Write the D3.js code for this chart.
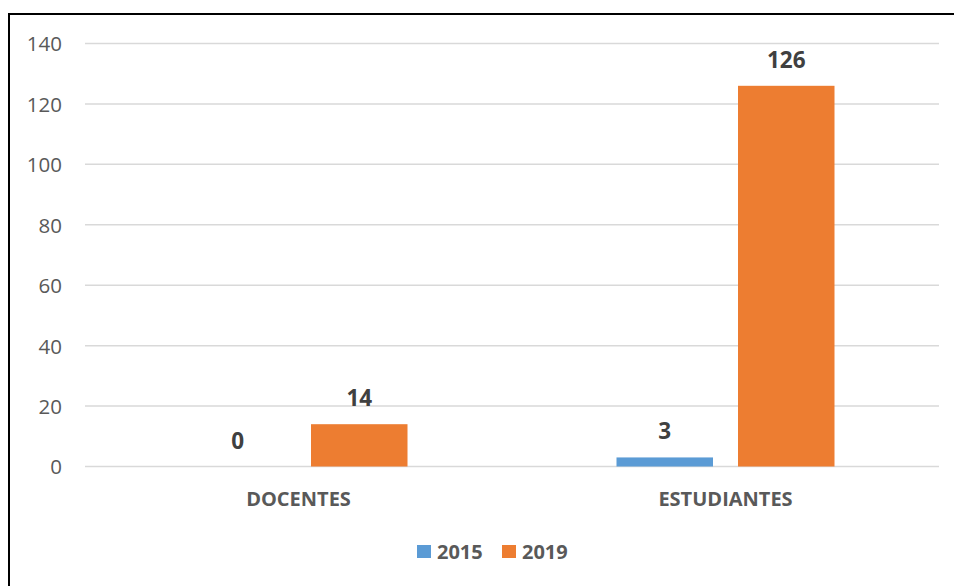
<!DOCTYPE html>
<html>
<head>
<meta charset="utf-8">
<script src="https://cdn.jsdelivr.net/npm/d3@7"></script>
<style>
  html, body { margin: 0; padding: 0; background: #fff; }
  svg { display: block; }
</style>
</head>
<body>
<svg id="chart" width="954" height="586"></svg>
<script>
// Chart data
const categories = ["DOCENTES", "ESTUDIANTES"];
const seriesNames = ["2015", "2019"];
const values2015 = [0, 3];
const values2019 = [14, 126];
const yTicks = [0, 20, 40, 60, 80, 100, 120, 140];
const colors = ["#5B9BD5", "#ED7D31"];

const seriesValues = [values2015, values2019];
const font = "'Open Sans', 'Liberation Sans', sans-serif";

const svg = d3.select("#chart");
const W = 954, H = 586;

// Frame (left and top edges of the chart box)
svg.append("line").attr("x1", 9).attr("y1", 14).attr("x2", W).attr("y2", 14)
  .attr("stroke", "#000").attr("stroke-width", 2);
svg.append("line").attr("x1", 9).attr("y1", 13).attr("x2", 9).attr("y2", H)
  .attr("stroke", "#000").attr("stroke-width", 2);

const plot = { left: 85, right: 939, top: 43.5, bottom: 466.5 };

const y = d3.scaleLinear().domain([0, 140]).range([plot.bottom, plot.top]);
const x0 = d3.scaleBand().domain(categories).range([plot.left, plot.right]).paddingInner(0).paddingOuter(0);

// Bar geometry within each category band
const barW = 96.5, barGap = 25;
const x1 = d3.scaleBand().domain(seriesNames)
  .range([0, barW * 2 + barGap]).paddingInner(barGap / (barW + barGap)).paddingOuter(0);
const groupW = barW * 2 + barGap;
const groupOffset = (x0.bandwidth() - groupW) / 2;

// Gridlines
svg.append("g").selectAll("line").data(yTicks).join("line")
  .attr("x1", plot.left).attr("x2", plot.right)
  .attr("y1", d => y(d)).attr("y2", d => y(d))
  .attr("stroke", "#D9D9D9").attr("stroke-width", 1.5);

// Y axis labels
const yAxis = d3.axisLeft(y).tickValues(yTicks).tickSize(0).tickPadding(0);
const gy = svg.append("g").attr("transform", `translate(62,0)`).call(yAxis);
gy.select(".domain").remove();
gy.selectAll("text")
  .attr("font-family", font).attr("font-size", 20.5).attr("fill", "#595959")
  .attr("dy", "0.36em");

// Bars
const groups = svg.append("g").selectAll("g").data(categories).join("g")
  .attr("transform", c => `translate(${x0(c) + groupOffset},0)`);

groups.each(function (c, ci) {
  const g = d3.select(this);
  seriesNames.forEach((s, si) => {
    const v = seriesValues[si][ci];
    g.append("rect")
      .attr("x", x1(s)).attr("width", x1.bandwidth())
      .attr("y", y(v)).attr("height", y(0) - y(v))
      .attr("fill", colors[si]);
    g.append("text")
      .attr("x", x1(s) + x1.bandwidth() / 2)
      .attr("y", y(v) - 18)
      .attr("text-anchor", "middle")
      .attr("font-family", font).attr("font-weight", "bold")
      .attr("font-size", 22.5).attr("fill", "#404040")
      .text(v);
  });
});

// Category labels
const xAxis = d3.axisBottom(x0).tickSize(0).tickPadding(0);
const gx = svg.append("g").attr("transform", `translate(0,${plot.bottom})`).call(xAxis);
gx.select(".domain").remove();
gx.selectAll("text")
  .attr("font-family", font).attr("font-weight", "bold")
  .attr("font-size", 20).attr("fill", "#595959")
  .attr("dy", 0).attr("y", 39.5);

// Legend
const legendItems = [
  { name: seriesNames[0], color: colors[0], x: 417 },
  { name: seriesNames[1], color: colors[1], x: 502 }
];
const lg = svg.append("g").selectAll("g").data(legendItems).join("g")
  .attr("transform", d => `translate(${d.x},545)`);
lg.append("rect").attr("width", 14).attr("height", 13).attr("fill", d => d.color);
lg.append("text").attr("x", 20).attr("y", 14)
  .attr("font-family", font).attr("font-weight", "bold")
  .attr("font-size", 20).attr("fill", "#595959")
  .text(d => d.name);
</script>
</body>
</html>
